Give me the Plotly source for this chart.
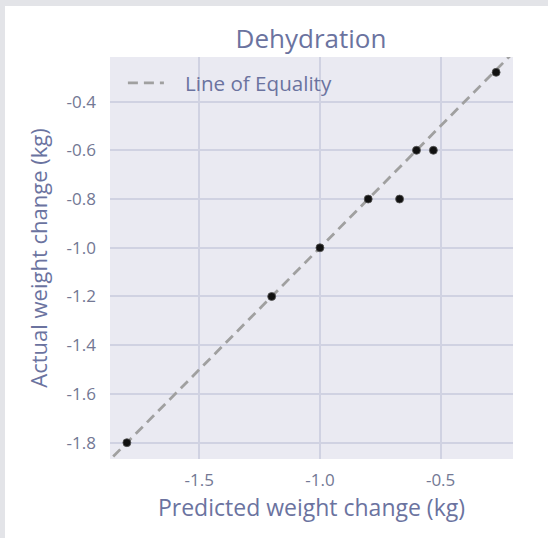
import plotly.graph_objects as go

# Data
predicted = [-1.8, -1.2, -1.0, -0.8, -0.67, -0.6, -0.53, -0.27]
actual = [-1.8, -1.2, -1.0, -0.8, -0.8, -0.6, -0.6, -0.28]
equality = [-1.95, -0.1]
x_tickvals = [-1.5, -1.0, -0.5]
x_ticktext = ["-1.5", "-1.0", "-0.5"]
y_tickvals = [-1.8, -1.6, -1.4, -1.2, -1.0, -0.8, -0.6, -0.4]
y_ticktext = ["-1.8", "-1.6", "-1.4", "-1.2", "-1.0", "-0.8", "-0.6", "-0.4"]

FONT = "Open Sans"
TXT = "#6b739f"
TICK = "#737894"

L, R, T, B = 110, 35, 57, 79
PW, PH = 548 - L - R, 538 - T - B

fig = go.Figure()
fig.add_trace(go.Scatter(
    x=equality, y=equality, mode="lines", name="\u00a0\u00a0\u00a0Line of Equality",
    line=dict(color="#a0a0a0", width=2.8, dash="10px,6px"),
))
fig.add_trace(go.Scatter(
    x=predicted, y=actual, mode="markers", showlegend=False,
    marker=dict(color="#111111", size=8, line=dict(color="#555555", width=0.8)),
))

fig.update_layout(
    width=548, height=538,
    margin=dict(l=L, r=R, t=T, b=B),
    paper_bgcolor="white",
    plot_bgcolor="#eaeaf2",
    font=dict(family=FONT, color=TXT),
    title=dict(text="Dehydration", x=311 / 548, xanchor="center", y=1 - 39 / 538, yanchor="middle",
               font=dict(size=26, color=TXT, family=FONT)),
    legend=dict(x=0.032, y=0.985, xanchor="left", yanchor="top",
                bgcolor="rgba(0,0,0,0)", font=dict(size=20.6, color=TXT, family=FONT),
                itemwidth=36),
)
fig.update_xaxes(
    range=[-1.87, -0.20], tickvals=x_tickvals, ticktext=x_ticktext,
    showgrid=True, gridcolor="#d0d2e2", gridwidth=1.5, zeroline=False,
    showline=False, ticks="", ticklabelstandoff=9, tickfont=dict(size=17, color=TICK, family=FONT),
    title=dict(text="Predicted weight change (kg)", font=dict(size=23, color=TXT, family=FONT), standoff=4),
)
fig.update_yaxes(
    range=[-1.867, -0.217], tickvals=y_tickvals, ticktext=y_ticktext,
    showgrid=True, gridcolor="#d0d2e2", gridwidth=1.5, zeroline=False,
    showline=False, ticks="", ticklabelstandoff=13, tickfont=dict(size=17, color=TICK, family=FONT),
    title=dict(text="Actual weight change (kg)", font=dict(size=22, color=TXT, family=FONT), standoff=12),
)

# Faint grey border strips (top and left) seen in the reference screenshot
fig.add_shape(type="rect", xref="paper", yref="paper", x0=-L / PW, x1=(548 - L) / PW,
              y0=1 + (T - 6) / PH, y1=1 + T / PH, fillcolor="#e3e4e8", line=dict(width=0), layer="below")
fig.add_shape(type="rect", xref="paper", yref="paper", x0=-L / PW, x1=(5 - L) / PW,
              y0=-B / PH, y1=1 + T / PH, fillcolor="#e3e4e8", line=dict(width=0), layer="below")

fig.write_html("out.html", config={"displayModeBar": False},
               post_script="document.body.style.margin='0';")
